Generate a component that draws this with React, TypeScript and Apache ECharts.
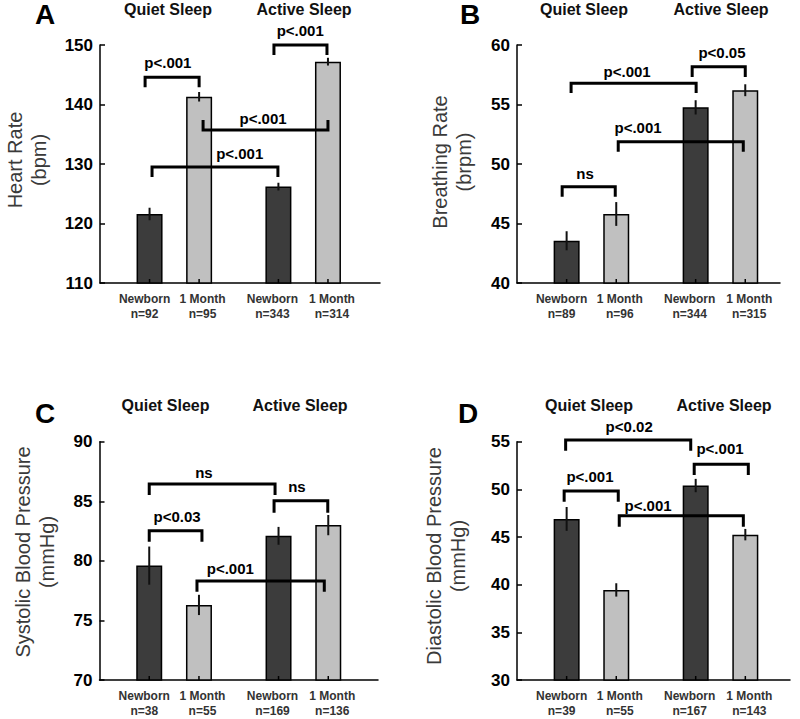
import React, { useEffect, useRef } from 'react';
import * as echarts from 'echarts';

// ---------- data ----------
const positions = [1, 2, 3.6, 4.6];
const groupLabels = ['Newborn', '1 Month', 'Newborn', '1 Month'];
const sleepStates = ['Quiet Sleep', 'Active Sleep'];

const hrN = ['n=92', 'n=95', 'n=343', 'n=314'];
const hrMean = [121.6, 141.3, 126.2, 147.2];
const hrErr = [1.05, 0.8, 0.65, 0.65];

const brN = ['n=89', 'n=96', 'n=344', 'n=315'];
const brMean = [43.55, 45.8, 54.76, 56.2];
const brErr = [0.8, 1.0, 0.6, 0.5];

const sbpN = ['n=38', 'n=55', 'n=169', 'n=136'];
const sbpMean = [79.6, 76.3, 82.1, 83.0];
const sbpErr = [1.6, 0.85, 0.75, 0.85];

const dbpN = ['n=39', 'n=55', 'n=167', 'n=143'];
const dbpMean = [46.9, 39.45, 50.4, 45.25];
const dbpErr = [1.25, 0.7, 0.7, 0.6];

// significance brackets: [x1, x2, lineValue, legEndValue, labelX, labelValue, text]
const bracketsA: any[] = [
  [0.91, 2.0, 144.6, 142.9, 1.37, 147.0, 'p<.001'],
  [3.51, 4.58, 150.0, 148.3, 4.04, 152.5, 'p<.001'],
  [2.08, 4.6, 135.7, 137.4, 3.29, 137.6, 'p<.001'],
  [1.05, 3.59, 129.5, 127.8, 2.82, 131.7, 'p<.001'],
];
const bracketsB: any[] = [
  [0.91, 1.98, 48.09, 47.25, 1.37, 49.24, 'ns'],
  [1.09, 3.61, 56.78, 55.97, 2.22, 57.8, 'p<.001'],
  [3.53, 4.6, 58.18, 57.31, 4.13, 59.35, 'p<0.05'],
  [2.04, 4.56, 51.87, 51.03, 2.44, 53.03, 'p<.001'],
];
const bracketsC: any[] = [
  [1.0, 3.53, 86.44, 85.52, 2.1, 87.45, 'ns'],
  [3.51, 4.59, 85.04, 84.04, 3.97, 86.22, 'ns'],
  [1.0, 2.06, 82.53, 81.6, 1.56, 83.7, 'p<0.03'],
  [1.96, 4.52, 78.31, 77.41, 2.63, 79.37, 'p<.001'],
];
const bracketsD: any[] = [
  [0.98, 3.5, 55.18, 54.06, 2.26, 56.58, 'p<0.02'],
  [3.57, 4.66, 52.63, 51.51, 4.09, 54.31, 'p<.001'],
  [0.95, 2.04, 49.83, 48.71, 1.47, 51.33, 'p<.001'],
  [2.06, 4.56, 47.24, 46.09, 2.64, 48.29, 'p<.001'],
];

// ---------- layout ----------
const FONT = '"Liberation Sans", Arial, Helvetica, sans-serif';
const DARK = '#3c3c3c';
const LIGHT = '#c0c0c0';
const labelShift = [-5, 3.5, -6, 4];

const panels = [
  {
    letter: 'A', yName: 'Heart Rate\n(bpm)', n: hrN, mean: hrMean, err: hrErr, brackets: bracketsA,
    yMin: 110, yMax: 150, yStep: 10, xMax: 5.65,
    grid: { left: 100, top: 45, width: 280, height: 238 },
    letterPos: [45, 14], titlePos: [[168, 9], [304, 9]], yNamePos: [27, 160],
  },
  {
    letter: 'B', yName: 'Breathing Rate\n(brpm)', n: brN, mean: brMean, err: brErr, brackets: bracketsB,
    yMin: 40, yMax: 60, yStep: 5, xMax: 5.3,
    grid: { left: 517, top: 45, width: 263, height: 238 },
    letterPos: [470, 14], titlePos: [[584, 9], [721, 9]], yNamePos: [452, 162],
  },
  {
    letter: 'C', yName: 'Systolic Blood Pressure\n(mmHg)', n: sbpN, mean: sbpMean, err: sbpErr, brackets: bracketsC,
    yMin: 70, yMax: 90, yStep: 5, xMax: 5.6,
    grid: { left: 99.5, top: 441.7, width: 278.5, height: 238.3 },
    letterPos: [45, 413], titlePos: [[165.5, 405], [300, 405]], yNamePos: [35, 552],
  },
  {
    letter: 'D', yName: 'Diastolic Blood Pressure\n(mmHg)', n: dbpN, mean: dbpMean, err: dbpErr, brackets: bracketsD,
    yMin: 30, yMax: 55, yStep: 5, xMax: 5.5,
    grid: { left: 517, top: 441.7, width: 273, height: 238.3 },
    letterPos: [468, 413], titlePos: [[589, 405], [724, 405]], yNamePos: [446, 556],
  },
];

function buildOption() {
  const grid: any[] = [];
  const xAxis: any[] = [];
  const yAxis: any[] = [];
  const series: any[] = [];
  const graphic: any[] = [];

  const rich: any = {};
  labelShift.forEach((s, i) => {
    rich['r' + i] = {
      fontFamily: FONT, fontSize: 12, fontWeight: 'bold', color: '#333', lineHeight: 15,
      padding: s < 0 ? [0, -2 * s, 0, 0] : [0, 0, 0, 2 * s],
    };
  });

  panels.forEach((p, k) => {
    grid.push({ ...p.grid, containLabel: false });
    xAxis.push({
      type: 'value', gridIndex: k, min: 0, max: p.xMax, interval: 0.2,
      axisLine: { show: true, lineStyle: { color: '#000', width: 1.5 } },
      axisTick: { show: false },
      splitLine: { show: false },
      axisLabel: {
        margin: 8,
        fontFamily: FONT, fontSize: 12, fontWeight: 'bold', color: '#333', lineHeight: 15,
        rich,
        formatter: (v: number) => {
          const idx = positions.findIndex((q) => Math.abs(q - v) < 1e-4);
          return idx >= 0 ? `{r${idx}|${groupLabels[idx]}}\n{r${idx}|${p.n[idx]}}` : '';
        },
      },
    });
    yAxis.push({
      type: 'value', gridIndex: k, min: p.yMin, max: p.yMax, interval: p.yStep,
      axisLine: { show: true, lineStyle: { color: '#000', width: 1.5 } },
      axisTick: { show: true, inside: true, length: 5, lineStyle: { color: '#000', width: 1.5 } },
      splitLine: { show: false },
      axisLabel: { margin: 7, fontFamily: FONT, fontSize: 17, fontWeight: 'bold', color: '#000' },
    });

    series.push({
      type: 'bar', xAxisIndex: k, yAxisIndex: k, barWidth: 26, z: 2,
      itemStyle: { borderColor: '#000', borderWidth: 1.5 },
      data: p.mean.map((v, i) => ({
        value: [positions[i], v],
        itemStyle: { color: i % 2 === 0 ? DARK : LIGHT, borderColor: '#000', borderWidth: 1.5 },
      })),
    });

    series.push({
      type: 'custom', xAxisIndex: k, yAxisIndex: k, z: 3, clip: false,
      data: p.mean.map((v, i) => [positions[i], v, p.err[i]]),
      renderItem: (_params: any, api: any) => {
        const x = api.value(0), m = api.value(1), e = api.value(2);
        const a = api.coord([x, m - e]);
        const b = api.coord([x, m + e]);
        const base = api.coord([x, p.yMin]);
        return {
          type: 'group',
          children: [
            {
              type: 'line',
              shape: { x1: a[0], y1: a[1], x2: b[0], y2: b[1] },
              style: { stroke: '#111', lineWidth: 2 },
            },
            {
              type: 'line',
              shape: { x1: base[0], y1: base[1], x2: base[0], y2: base[1] - 4 },
              style: { stroke: '#000', lineWidth: 1.5 },
            },
          ],
        };
      },
    });

    series.push({
      type: 'custom', xAxisIndex: k, yAxisIndex: k, z: 4, clip: false,
      data: p.brackets.map((b) => [b[0], b[2], b[1], b[3], b[4], b[5]]),
      renderItem: (params: any, api: any) => {
        const b = p.brackets[params.dataIndex];
        const l1 = api.coord([b[0], b[3]]);
        const p1 = api.coord([b[0], b[2]]);
        const p2 = api.coord([b[1], b[2]]);
        const l2 = api.coord([b[1], b[3]]);
        const t = api.coord([b[4], b[5]]);
        return {
          type: 'group',
          children: [
            {
              type: 'polyline',
              shape: { points: [l1, p1, p2, l2] },
              style: { stroke: '#000', lineWidth: 3, fill: 'none', lineJoin: 'miter' },
            },
            {
              type: 'text', x: t[0], y: t[1],
              style: {
                text: b[6], fill: '#000', font: `bold 15px ${FONT}`,
                align: 'center', verticalAlign: 'middle',
              },
            },
          ],
        };
      },
    });

    graphic.push({
      type: 'text', x: p.letterPos[0], y: p.letterPos[1],
      style: { text: p.letter, fill: '#000', font: `bold 28px ${FONT}`, align: 'center', verticalAlign: 'middle' },
    });
    p.titlePos.forEach((tp, j) => {
      graphic.push({
        type: 'text', x: tp[0], y: tp[1],
        style: { text: sleepStates[j], fill: '#111', font: `bold 16px ${FONT}`, align: 'center', verticalAlign: 'middle' },
      });
    });
    graphic.push({
      type: 'text', x: p.yNamePos[0], y: p.yNamePos[1], rotation: Math.PI / 2,
      style: {
        text: p.yName, fill: '#3a3a3a', font: `20px ${FONT}`, lineHeight: 24,
        align: 'center', verticalAlign: 'middle',
      },
    });
  });

  return {
    animation: false,
    backgroundColor: '#ffffff',
    grid, xAxis, yAxis, series, graphic,
  };
}

export default function App() {
  const ref = useRef<HTMLDivElement>(null);
  useEffect(() => {
    if (!ref.current) return;
    const chart = echarts.init(ref.current, undefined, { renderer: 'svg' });
    chart.setOption(buildOption() as any);
    return () => chart.dispose();
  }, []);
  return (
    <div
      ref={ref}
      style={{ position: 'fixed', left: 0, top: 0, width: 800, height: 719, background: '#fff' }}
    />
  );
}
